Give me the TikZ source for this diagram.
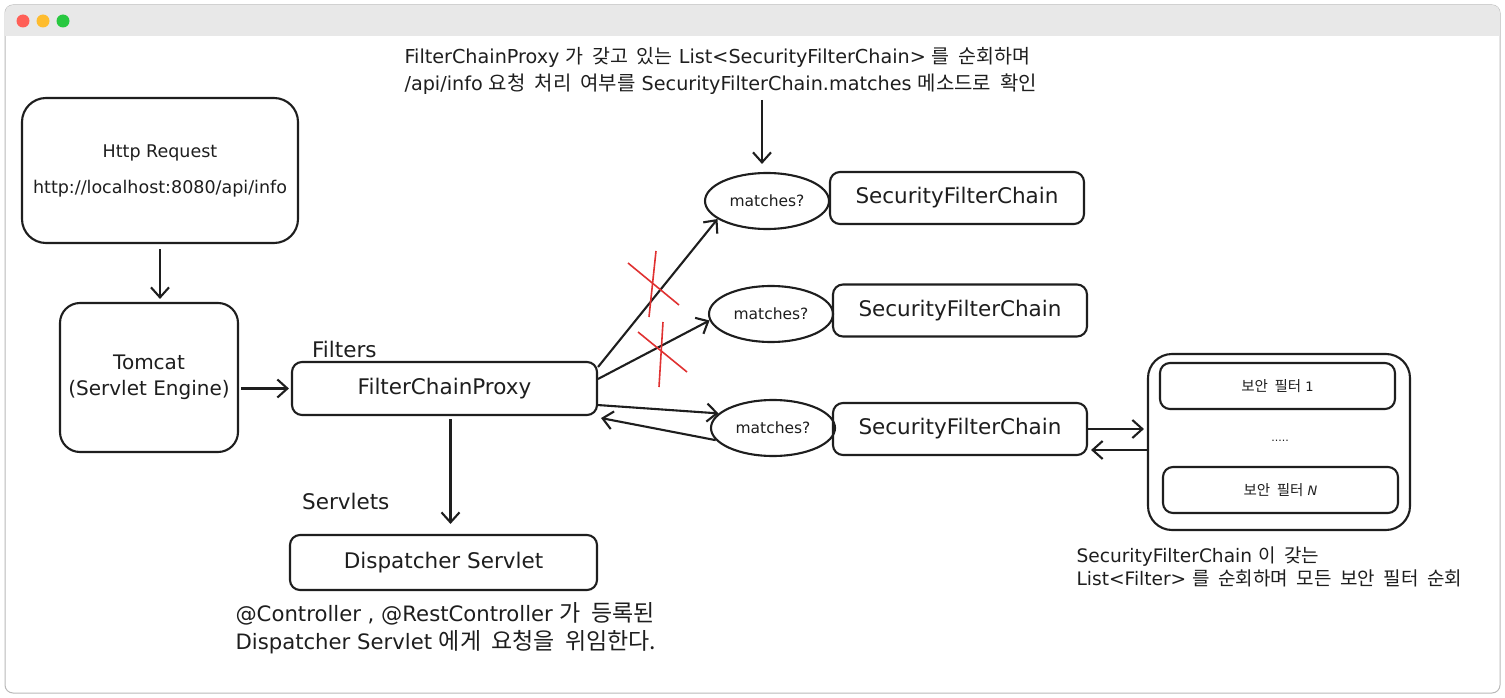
\documentclass[tikz,border=0pt]{standalone}
\usepackage{fontspec}
\setmainfont{DejaVu Sans}
\newfontfamily\krfont[WordSpace=2]{Noto Sans CJK KR}
\newcommand\kr[2][19.5]{{\krfont\fontsize{#1}{#1}\selectfont #2}}
\usepackage{xcolor}
\usetikzlibrary{arrows.meta,positioning,calc,shapes.geometric}
\definecolor{ink}{HTML}{1E1E1E}
\definecolor{xred}{HTML}{E03131}
\definecolor{barbg}{HTML}{E8E8E8}
\definecolor{dotr}{HTML}{FF5F57}
\definecolor{doty}{HTML}{FEBC2E}
\definecolor{dotg}{HTML}{28C840}

\begin{document}
\begin{tikzpicture}[
    x=1pt, y=-1pt,
    font=\fontsize{21.5}{25}\selectfont,
    box/.style={draw=ink, line width=2.1pt, rounded corners=10pt, align=center, text=ink},
    big/.style={box, rounded corners=24pt},
    chk/.style={ellipse, draw=ink, line width=2.1pt, minimum width=124pt, minimum height=56pt,
                inner sep=0pt, text=ink, font=\fontsize{15.5}{18}\selectfont},
    sfc/.style={box, minimum width=254pt, minimum height=52pt},
    flt/.style={box, minimum width=235pt, minimum height=46pt, font=\fontsize{13}{15}\selectfont},
    lbl/.style={text=ink, inner sep=2pt, font=\fontsize{21.5}{25}\selectfont},
    note/.style={align=left, anchor=west, text=ink, font=\fontsize{19.2}{27}\selectfont},
    arr/.style={->, draw=ink, line width=2.1pt},
    cross/.style={draw=xred, line width=1.6pt},
    >={Straight Barb[length=10pt,width=18pt]},
    ]
\useasboundingbox (0,0) rectangle (1505,698);
% window frame
\draw[gray!55, fill=white, rounded corners=8pt, line width=1pt] (5,5) rectangle (1500,693);
\begin{scope}
  \clip[rounded corners=8pt] (5,5) rectangle (1500,693);
  \fill[barbg] (5,5) rectangle (1500,36);
\end{scope}
\fill[dotr] (23,21) circle (6.5pt);
\fill[doty] (43,21) circle (6.5pt);
\fill[dotg] (63,21) circle (6.5pt);

% left column
\node[big, minimum width=276pt, minimum height=145pt, font=\fontsize{17.5}{20}\selectfont] (req) at (160,170.5)
     {Http Request\\[16pt]http://localhost:8080/api/info};
\node[big, minimum width=178pt, minimum height=149pt, rounded corners=20pt, font=\fontsize{20}{26}\selectfont] (tomcat) at (149,377.5)
     {Tomcat\\(Servlet Engine)};
\node[box, minimum width=305pt, minimum height=53pt] (fcp) at (444.5,388.5) {FilterChainProxy};
\node[lbl, anchor=south west] (filters) at ([xshift=19pt,yshift=1pt]fcp.north west) {Filters};
\node[box, minimum width=307pt, minimum height=55pt] (ds) at (443.5,562.5) {Dispatcher Servlet};
\node[lbl, anchor=south west] (servlets) at ([xshift=11pt,yshift=22pt]ds.north west) {Servlets};
\node[note, font=\fontsize{21.2}{28}\selectfont] (dsnote) at (232,628)
     {@Controller , @RestController \kr[23]{가 등록된}\\Dispatcher Servlet \kr[23]{에게 요청을 위임한다.}};

% chains
\node[note] (topnote) at (401,70.5)
     {FilterChainProxy \kr{가 갖고 있는} List<SecurityFilterChain> \kr{를 순회하며}\\/api/info \kr[20]{요청 처리 여부를} SecurityFilterChain.matches \kr[20]{메소드로 확인}};
\node[chk] (m1) at (767,201) {matches?};
\node[chk] (m2) at (771,314) {matches?};
\node[chk] (m3) at (773,428) {matches?};
\node[sfc] (s1) at (957,198) {SecurityFilterChain};
\node[sfc] (s2) at (960,310.5) {SecurityFilterChain};
\node[sfc] (s3) at (960,429) {SecurityFilterChain};

% filter list
\node[big, minimum width=262pt, minimum height=176pt] (fgroup) at (1279,442) {};
\node[flt] (f1) at (1277.5,386) {\kr[14.5]{보안 필터} 1};
\node[flt] (fn) at (1280.5,490) {\kr[14.5]{보안 필터} \textit{N}};
\node[text=ink, font=\fontsize{11}{13}\selectfont] (dots) at (1280,441) {.....};
\node[note, font=\fontsize{18.6}{23}\selectfont] (fnote) at (1073,567)
     {SecurityFilterChain \kr[19]{이 갖는}\\List<Filter> \kr[19]{를 순회하며 모든 보안 필터 순회}};

% arrows
\draw[arr, shorten <=5pt, shorten >=3pt] (req.south) -- (req.south |- tomcat.north);
\draw[arr, shorten <=2pt, shorten >=2pt] (tomcat.east |- fcp.west) -- (fcp.west);
\draw[arr, shorten <=3pt, shorten >=10pt] ([xshift=6pt]fcp.south) -- ([xshift=6pt]fcp.south |- ds.north);
\coordinate (qtop) at (762,100);
\draw[arr] (qtop) -- ([xshift=-5pt,yshift=8pt]m1.north);
\draw[arr] ([yshift=-6pt]fcp.north east) -- (m1.200);
\draw[arr] ([yshift=-18pt]fcp.north east) -- (m2.186);
\draw[arr] ([yshift=11pt]fcp.south east) -- (m3.165);
\draw[arr] (m3.192) -- ([xshift=3pt,yshift=-2pt]fcp.south east);
\draw[arr, shorten >=3pt] (s3.east) -- (s3.east -| fgroup.west);
\draw[arr, shorten >=3pt] ($(s3.east -| fgroup.west)+(0,21)$) -- ($(s3.east)+(0,21)$);

% rejected matches
\coordinate (x1) at (652,285);
\draw[cross] ($(x1)+(4,-34)$) -- ($(x1)+(-3,32)$);
\draw[cross] ($(x1)+(-24,-22)$) -- ($(x1)+(27,20)$);
\coordinate (x2) at (662,355);
\draw[cross] ($(x2)+(1,-33)$) -- ($(x2)+(-3,32)$);
\draw[cross] ($(x2)+(-24,-23)$) -- ($(x2)+(25,17)$);
\end{tikzpicture}
\end{document}
